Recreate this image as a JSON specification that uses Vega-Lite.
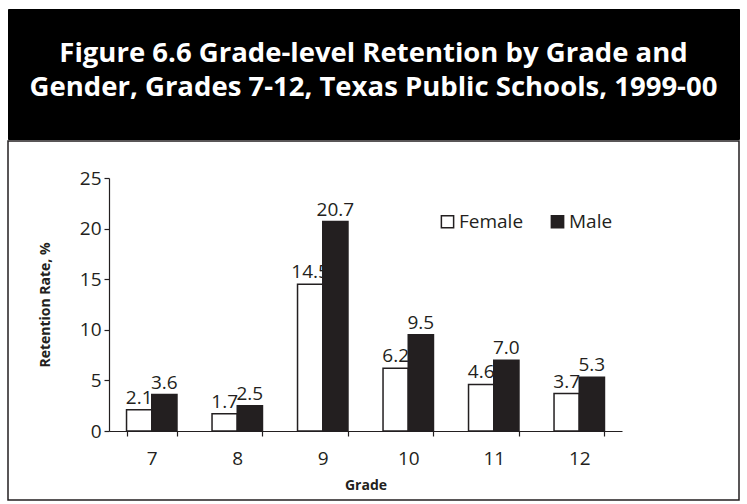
{
  "$schema": "https://vega.github.io/schema/vega-lite/v6.json",
  "padding": {"left": 7, "top": 8, "right": 9, "bottom": 7},
  "background": "white",
  "spacing": 0,
  "config": {"font": "Open Sans"},
  "vconcat": [
    {
      "width": 731,
      "height": 130,
      "view": {"fill": "black", "stroke": "black"},
      "data": {"values": [{"t": "Figure 6.6 Grade-level Retention by Grade and\nGender, Grades 7-12, Texas Public Schools, 1999-00"}]},
      "mark": {"type": "text", "lineBreak": "\n", "font": "Open Sans", "fontWeight": "bold", "fontSize": 27.5, "color": "white", "align": "center", "baseline": "middle", "lineHeight": 34, "dy": -20},
      "encoding": {"text": {"field": "t"}}
    },
    {
      "width": 731,
      "height": 359,
      "view": {"fill": "white", "stroke": "#231f20", "strokeWidth": 1.5},
      "data": {"values": [
        {"grade": "7", "gender": "Female", "rate": 2.1},
        {"grade": "7", "gender": "Male", "rate": 3.6},
        {"grade": "8", "gender": "Female", "rate": 1.7},
        {"grade": "8", "gender": "Male", "rate": 2.5},
        {"grade": "9", "gender": "Female", "rate": 14.5},
        {"grade": "9", "gender": "Male", "rate": 20.7},
        {"grade": "10", "gender": "Female", "rate": 6.2},
        {"grade": "10", "gender": "Male", "rate": 9.5},
        {"grade": "11", "gender": "Female", "rate": 4.6},
        {"grade": "11", "gender": "Male", "rate": 7.0},
        {"grade": "12", "gender": "Female", "rate": 3.7},
        {"grade": "12", "gender": "Male", "rate": 5.3}
      ]},
      "encoding": {
        "x": {
          "field": "grade", "type": "nominal", "sort": ["7", "8", "9", "10", "11", "12"],
          "scale": {"range": [101, 614], "paddingInner": 0.41, "paddingOuter": 0.205},
          "axis": {"title": "Grade", "titleFont": "Open Sans", "titleFontWeight": "bold", "titleFontSize": 14, "titleColor": "#231f20", "titlePadding": 10,
                   "labelFont": "Open Sans", "labelFontSize": 19, "labelColor": "#231f20", "labelAngle": 0, "labelPadding": 13,
                   "offset": -69, "tickBand": "extent", "tickSize": 5, "tickColor": "#231f20", "domainColor": "#231f20", "domainWidth": 1.2, "tickWidth": 1.2}
        },
        "xOffset": {"field": "gender", "type": "nominal", "sort": ["Female", "Male"], "scale": {"paddingInner": 0, "paddingOuter": 0}},
        "y": {
          "field": "rate", "type": "quantitative",
          "scale": {"domain": [0, 25], "range": [290, 37], "nice": false},
          "axis": {"title": "Retention Rate, %", "titleFont": "Open Sans", "titleFontWeight": "bold", "titleFontSize": 14, "titleColor": "#231f20", "titlePadding": 27,
                   "labelFont": "Open Sans", "labelFontSize": 19, "labelColor": "#231f20", "labelPadding": 3,
                   "values": [0, 5, 10, 15, 20, 25], "grid": false, "offset": -101, "tickSize": 5, "tickColor": "#231f20", "domainColor": "#231f20", "domainWidth": 1.2, "tickWidth": 1.2}
        }
      },
      "layer": [
        {
          "mark": {"type": "bar", "stroke": "#231f20", "strokeWidth": 1.5},
          "encoding": {
            "fill": {
              "field": "gender", "type": "nominal",
              "scale": {"domain": ["Female", "Male"], "range": ["white", "#231f20"]},
              "legend": {"title": null, "orient": "none", "legendX": 430, "legendY": 203, "direction": "horizontal",
                         "symbolType": "square", "symbolSize": 150, "symbolStrokeColor": "#231f20", "symbolStrokeWidth": 1.5,
                         "labelFont": "Open Sans", "labelFontSize": 19, "labelColor": "#231f20", "labelOffset": 2, "columnPadding": 24}
            }
          }
        },
        {
          "mark": {"type": "text", "baseline": "bottom", "dy": -2, "fontSize": 19, "font": "Open Sans", "color": "#231f20"},
          "encoding": {"text": {"field": "rate", "type": "quantitative", "format": ".1f"}}
        }
      ]
    }
  ]
}
